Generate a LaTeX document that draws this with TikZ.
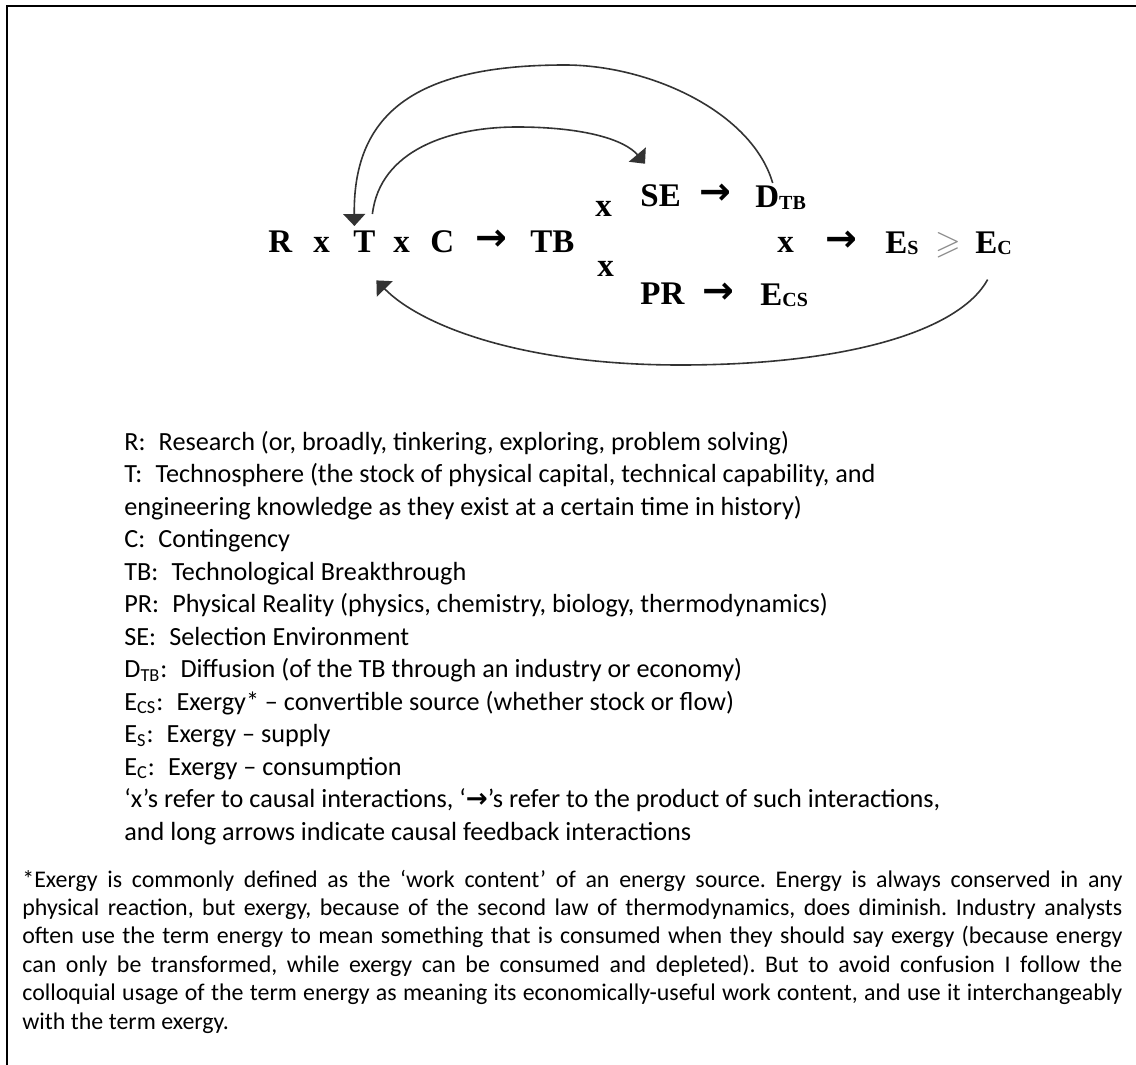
\documentclass[tikz,border=0pt]{standalone}
\usepackage{fontspec}
\usepackage{amssymb}
\usetikzlibrary{arrows.meta}
\setmainfont{Carlito}
\newfontfamily\dgfont{Liberation Serif}
\newfontfamily\arfont{DejaVu Sans}
\newcommand{\barr}{{\arfont\bfseries →}}
\newcommand{\dsub}[1]{\raisebox{-1pt}{\fontsize{10}{10}\selectfont #1}}
\frenchspacing
\tikzset{
  dg/.style={font=\dgfont\bfseries\fontsize{16.5}{18}\selectfont, inner sep=0pt, anchor=base west},
  dgar/.style={font=\arfont\bfseries\fontsize{19}{20}\selectfont, inner sep=0pt, anchor=base west},
  lg/.style={font=\fontsize{13.1}{16}\selectfont, inner sep=0pt, anchor=base west},
  fn/.style={font=\fontsize{11.95}{14}\selectfont, inner sep=0pt, anchor=base west},
  fb/.style={line width=0.8pt, draw=black!80},
  tipT/.style={-{Triangle[width=11pt,length=6pt]}}
}
\begin{document}
\begin{tikzpicture}[x=0.5pt,y=-0.5pt]
\useasboundingbox (0,0) rectangle (1136,1065);
\coordinate (frameTL) at (6.5,6.5);
\coordinate (frameTR) at (1136,6.5);
\coordinate (frameBL) at (6.5,1065);
\draw[line width=1pt] (frameTR) -- (frameTL) -- (frameBL);
% main row
\node[dg] (R) at (268,252) {R};
\node[dg] (x1) at (313,252) {x};
\node[dg] (T) at (353,252) {T};
\node[dg] (x2) at (393,252) {x};
\node[dg] (C) at (430,252) {C};
\node[dgar] (a1) at (475,250) {→};
\node[dg] (TB) at (530,252) {TB};
\node[dg] (xu) at (595,217) {x};
\node[dg] (xl) at (597,277) {x};
\node[dg] (SE) at (640,206) {SE};
\node[dgar] (a2) at (699,205) {→};
\node[dg] (D) at (755,207) {D\dsub{TB}};
\node[dg] (PR) at (640,304) {PR};
\node[dgar] (a3) at (702,303) {→};
\node[dg] (ECS) at (760,305) {E\dsub{CS}};
\node[dg] (xm) at (777,252) {x};
\node[dgar] (a4) at (825,251) {→};
\node[dg] (ES) at (885,253) {E\dsub{S}};
\node[dg,text=black!45] (ge) at (935,253) {$\geqslant$};
\node[dg] (EC) at (975,253) {E\dsub{C}};
% feedback arcs
\draw[fb,tipT] ([xshift=-4pt,yshift=1pt]D.north) .. controls (752,112) and (650,65) .. (565,65)
   .. controls (420,65) and (353,110) .. ([xshift=-5pt,yshift=2pt]T.north);
\draw[fb,tipT] ([xshift=4pt,yshift=8pt]T.north) .. controls (380,150) and (450,127) .. (517,127)
   .. controls (585,127) and (625,140) .. ([xshift=2.5pt,yshift=10pt]SE.north west);
\draw[fb,tipT] ([xshift=-3pt,yshift=-12pt]EC.south) .. controls (960,330) and (850,365) .. (680,365)
   .. controls (520,365) and (420,325) .. ([xshift=6pt,yshift=-14pt]T.south);
% legend
\node[lg] (L1) at (124,450) {R:\enspace Research (or, broadly, tinkering, exploring, problem solving)};
\node[lg] (L2) at (124,482.5) {T:\enspace Technosphere (the stock of physical capital, technical capability, and};
\node[lg] (L3) at (124,515) {engineering knowledge as they exist at a certain time in history)};
\node[lg] (L4) at (124,547.5) {C:\enspace Contingency};
\node[lg] (L5) at (124,580) {TB:\enspace Technological Breakthrough};
\node[lg] (L6) at (124,612.5) {PR:\enspace Physical Reality (physics, chemistry, biology, thermodynamics)};
\node[lg] (L7) at (124,645) {SE:\enspace Selection Environment};
\node[lg] (L8) at (124,677.5) {D\textsubscript{TB}:\enspace Diffusion (of the TB through an industry or economy)};
\node[lg] (L9) at (124,710) {E\textsubscript{CS}:\enspace Exergy* – convertible source (whether stock or flow)};
\node[lg] (L10) at (124,742.5) {E\textsubscript{S}:\enspace Exergy – supply};
\node[lg] (L11) at (124,775) {E\textsubscript{C}:\enspace Exergy – consumption};
\node[lg] (L12) at (124,807.5) {‘x’s refer to causal interactions, ‘\barr’s refer to the product of such interactions,};
\node[lg] (L13) at (124,840) {and long arrows indicate causal feedback interactions};
% footnote
\node[fn] (F1) at (22,887) {\makebox[550pt][s]{*Exergy is commonly defined as the ‘work content’ of an energy source. Energy is always conserved in any}};
\node[fn] (F2) at (22,915.4) {\makebox[550pt][s]{physical reaction, but exergy, because of the second law of thermodynamics, does diminish. Industry analysts}};
\node[fn] (F3) at (22,943.8) {\makebox[550pt][s]{often use the term energy to mean something that is consumed when they should say exergy (because energy}};
\node[fn] (F4) at (22,972.2) {\makebox[550pt][s]{can only be transformed, while exergy can be consumed and depleted). But to avoid confusion I follow the}};
\node[fn] (F5) at (22,1000.6) {\makebox[550pt][s]{colloquial usage of the term energy as meaning its economically-useful work content, and use it interchangeably}};
\node[fn] (F6) at (22,1029) {with the term exergy.};
\end{tikzpicture}
\end{document}
